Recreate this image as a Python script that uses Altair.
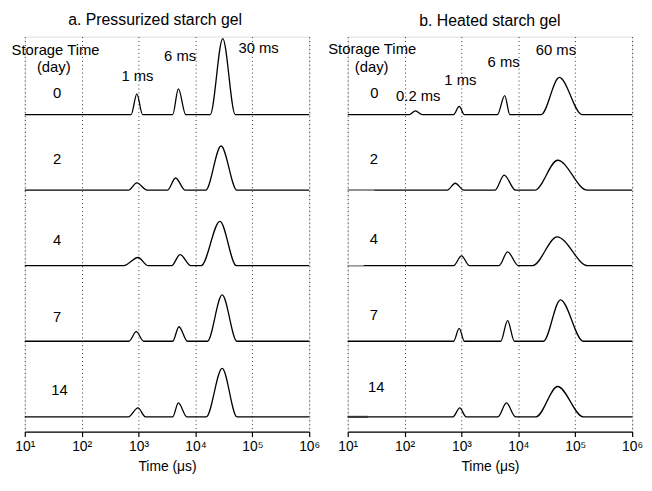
import altair as alt
import pandas as pd

FONT = "Liberation Sans"

# Storage times (days), one trace per day, top to bottom
DAYS = [0, 2, 4, 7, 14]

# Peaks per trace: (log10 start, log10 apex, log10 end, peak height)
PEAKS_A = [
    [(2.87, 2.97, 3.07, 21.0), (3.60, 3.70, 3.83, 26.0), (4.26, 4.48, 4.70, 77.0)],
    [(2.82, 2.97, 3.15, 7.3), (3.51, 3.65, 3.82, 12.3), (4.18, 4.45, 4.73, 44.7)],
    [(2.74, 2.99, 3.17, 8.3), (3.58, 3.73, 3.92, 11.3), (4.10, 4.43, 4.72, 45.0)],
    [(2.83, 2.96, 3.09, 9.7), (3.60, 3.71, 3.86, 14.7), (4.21, 4.47, 4.73, 47.0)],
    [(2.82, 2.99, 3.12, 9.0), (3.60, 3.70, 3.85, 14.0), (4.19, 4.47, 4.73, 49.0)],
]
PEAKS_B = [
    [(2.08, 2.19, 2.31, 3.7), (2.86, 2.96, 3.05, 8.3), (3.63, 3.76, 3.85, 19.3), (4.40, 4.72, 5.12, 37.7)],
    [(2.75, 2.89, 3.04, 7.0), (3.59, 3.75, 3.95, 15.3), (4.29, 4.69, 5.21, 30.3)],
    [(2.86, 3.00, 3.14, 10.0), (3.66, 3.81, 4.00, 14.0), (4.25, 4.68, 5.22, 29.3)],
    [(2.86, 2.96, 3.05, 13.0), (3.69, 3.81, 3.93, 21.0), (4.44, 4.74, 5.14, 42.0)],
    [(2.85, 2.97, 3.08, 9.0), (3.64, 3.79, 3.95, 14.0), (4.31, 4.69, 5.14, 30.7)],
]

# Short grey starts of some baselines in panel b: (day, log10 end, colour, width)
EDGES_B = [(2, 1.47, "#aaaaaa", 1.2), (4, 1.28, "#aaaaaa", 1.2), (14, 1.36, "#333333", 2.0)]

# Annotation texts: (text, log10 x, y)
TEXT_A = [
    ("Storage Time", 1.54, 386), ("(day)", 1.51, 369),
    ("0", 1.57, 343), ("2", 1.57, 275.5), ("4", 1.57, 194), ("7", 1.57, 116), ("14", 1.61, 42.5),
    ("1 ms", 2.98, 360), ("6 ms", 3.73, 380), ("30 ms", 5.11, 388.5),
]
TEXT_B = [
    ("Storage Time", 1.43, 387), ("(day)", 1.42, 369),
    ("0", 1.47, 343), ("2", 1.46, 276), ("4", 1.46, 195), ("7", 1.46, 118), ("14", 1.50, 45),
    ("0.2 ms", 2.24, 340), ("1 ms", 2.98, 356), ("6 ms", 3.74, 374), ("60 ms", 4.66, 386),
]

TICKS = [10, 100, 1000, 10000, 100000, 1000000]
LOG_MIN, LOG_MAX = 1.0, 6.0
OFFSET_BASE = 15.0
OFFSET_STEP = 76.5


def offset(i):
    return OFFSET_BASE + OFFSET_STEP * (len(DAYS) - 1 - i)


def curve_df(peaks_by_day):
    rows = []
    for i, (day, peaks) in enumerate(zip(DAYS, peaks_by_day)):
        off = offset(i)
        pts = [(LOG_MIN, 0.0)]
        for lo, c, hi, h in peaks:
            pts += [(lo, 0.0), (c, h), (hi, 0.0)]
        pts.append((LOG_MAX, 0.0))
        for k, (lx, h) in enumerate(pts):
            rows.append({"day": day, "k": k, "t": 10 ** lx, "y": off + h})
    return pd.DataFrame(rows)


def text_df(items):
    return pd.DataFrame([{"label": s, "t": 10 ** lx, "y": y} for s, lx, y in items])


def edge_df(items):
    rows = []
    for day, lend, col, w in items:
        i = DAYS.index(day)
        rows.append({"t": 10 ** LOG_MIN, "t2": 10 ** lend, "y": offset(i), "col": col, "w": w})
    return pd.DataFrame(rows)


xscale = alt.Scale(type="log", domain=[10, 1000000], nice=False)
yscale = alt.Scale(domain=[0, 400], nice=False, zero=False)
xaxis = alt.Axis(
    values=TICKS,
    labelExpr="'10' + ['⁰','¹','²','³','⁴','⁵','⁶'][round(log(datum.value)/LN10)]",
    title="Time (μs)",
    grid=True, gridDash=[1, 3], gridColor="#333333", gridWidth=1,
    domainColor="black", domainWidth=1.2, tickColor="black", tickSize=5, tickWidth=1.2,
    labelFontSize=14, labelColor="black", labelFont=FONT, labelPadding=3,
    titleFontSize=14, titleFontWeight="normal", titleColor="black", titleFont=FONT,
    titlePadding=6, labelFlush=False,
)


def panel(title, dx, peaks, texts, edges=None):
    base_x = alt.X("t:Q", scale=xscale, axis=xaxis)
    lines = alt.Chart(curve_df(peaks)).mark_line(
        color="black", strokeWidth=1.3, interpolate="monotone"
    ).encode(
        x=base_x,
        y=alt.Y("y:Q", scale=yscale, axis=None),
        detail="day:N",
        order="k:Q",
    )
    labels = alt.Chart(text_df(texts)).mark_text(
        fontSize=15, font=FONT, color="black", align="center", baseline="middle"
    ).encode(
        x=alt.X("t:Q", scale=xscale),
        y=alt.Y("y:Q", scale=yscale),
        text="label:N",
    )
    layers = [lines]
    if edges:
        rules = alt.Chart(edge_df(edges)).mark_rule().encode(
            x=alt.X("t:Q", scale=xscale),
            x2="t2:Q",
            y=alt.Y("y:Q", scale=yscale),
            color=alt.Color("col:N", scale=None),
            strokeWidth=alt.StrokeWidth("w:Q", scale=None),
        )
        layers.append(rules)
    layers.append(labels)
    return alt.layer(*layers).properties(
        width=288, height=400,
        title=alt.TitleParams(title, fontSize=16, fontWeight="normal", font=FONT,
                              color="black", dx=dx, offset=-5, baseline="alphabetic"),
    )


pa = panel("a. Pressurized starch gel", -12, PEAKS_A, TEXT_A)
pb = panel("b. Heated starch gel", 0, PEAKS_B, TEXT_B, EDGES_B)

chart = alt.hconcat(pa, pb, spacing=39, bounds="flush").properties(
    padding={"left": 2, "top": 0, "right": 0, "bottom": 0}
).configure_view(stroke=None).configure(background="white")

chart.save("out.html", embed_options={"renderer": "svg", "actions": False})
